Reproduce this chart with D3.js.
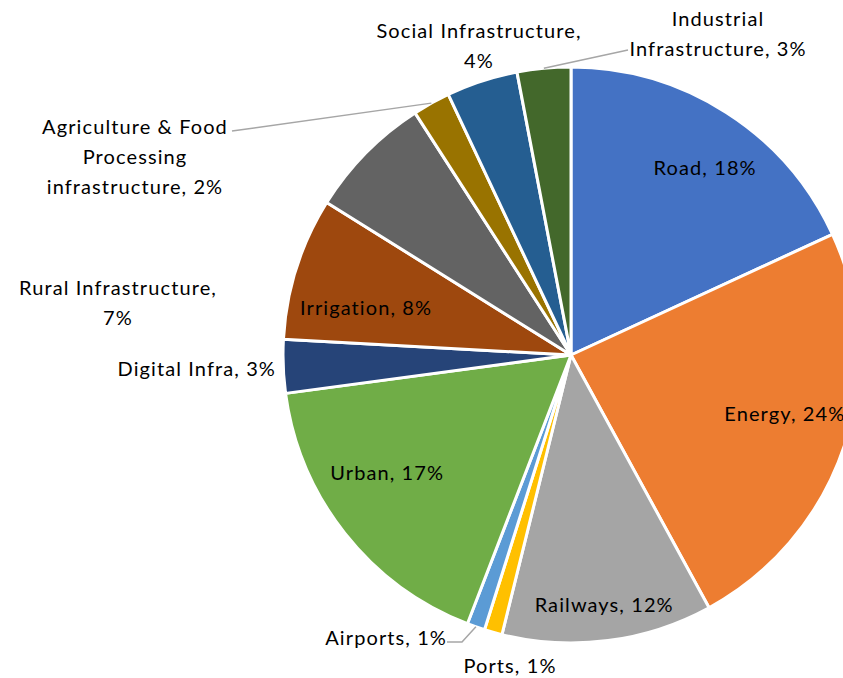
<!DOCTYPE html>
<html>
<head>
<meta charset="utf-8">
<script src="https://cdn.jsdelivr.net/npm/d3@7"></script>
<style>
  body { margin: 0; background: #fff; }
  text { font-family: Lato, 'Open Sans', sans-serif; font-size: 20px; fill: #000; letter-spacing: 1.1px; }
</style>
</head>
<body>
<script>
const categories = ['Road', 'Energy', 'Railways', 'Ports', 'Airports', 'Urban', 'Digital Infra',
  'Irrigation', 'Rural Infrastructure', 'Agriculture & Food Processing infrastructure',
  'Social Infrastructure', 'Industrial Infrastructure']
const values = [18.1, 23.9, 11.8, 1.0, 1.0, 17.0, 3.0, 8.0, 7.0, 2.1, 4.0, 3.0]
const pctLabels = ['18%', '24%', '12%', '1%', '1%', '17%', '3%', '8%', '7%', '2%', '4%', '3%']
const colors = ['#4472C4', '#ED7D31', '#A5A5A5', '#FFC000', '#5B9BD5', '#70AD47', '#264478',
  '#9E480E', '#636363', '#997300', '#255E91', '#43682B']

// label layout: inside labels sit on an arc (plus a nudge), outside ones get a block position
const labelLayout = [
  { inside: true, k: 0.80, dx: 10, dy: 6, lines: ['Road, 18%'] },
  { inside: true, k: 0.76, dx: 6, dy: -11, lines: ['Energy, 24%'] },
  { inside: true, k: 0.87, dx: 1, dy: 1, lines: ['Railways, 12%'] },
  { x: 510, y: 665, anchor: 'middle', lines: ['Ports, 1%'] },
  { x: 447, y: 637, anchor: 'end', lines: ['Airports, 1%'], leader: [462, 642, 447, 642] },
  { inside: true, k: 0.76, dx: -12, dy: -19, lines: ['Urban, 17%'] },
  { x: 276, y: 368, anchor: 'end', lines: ['Digital Infra, 3%'] },
  { inside: true, k: 0.75, dx: 1, dy: 17, lines: ['Irrigation, 8%'] },
  { x: 118, y: 287, anchor: 'middle', lines: ['Rural Infrastructure,', '7%'] },
  { x: 135, y: 126, anchor: 'middle', lines: ['Agriculture & Food', 'Processing', 'infrastructure, 2%'], leader: [232, 131, 232, 131] },
  { x: 479, y: 30, anchor: 'middle', lines: ['Social Infrastructure,', '4%'] },
  { x: 718, y: 18, anchor: 'middle', lines: ['Industrial', 'Infrastructure, 3%'], leader: [628, 50, 628, 50] }
]

const w = 843
const h = 678
const cx = 571
const cy = 355
const R = 288

const svg = d3.select('body').append('svg')
  .attr('width', w)
  .attr('height', h)

const g = svg.append('g').attr('transform', 'translate(' + cx + ',' + cy + ')')

const pie = d3.pie().sort(null).value(d => d)
const arcs = pie(values)
const arc = d3.arc().innerRadius(0).outerRadius(R)

g.selectAll('path.slice')
  .data(arcs)
  .enter().append('path')
  .attr('class', 'slice')
  .attr('d', arc)
  .attr('fill', (d, i) => colors[i])
  .attr('stroke', '#fff')
  .attr('stroke-width', 3)
  .attr('stroke-linejoin', 'round')

const lineH = 30

// leader lines
arcs.forEach((d, i) => {
  const L = labelLayout[i]
  if (!L.leader) return
  const mid = (d.startAngle + d.endAngle) / 2
  const sx = cx + Math.sin(mid) * R
  const sy = cy - Math.cos(mid) * R
  const pts = [[sx, sy], [L.leader[0], L.leader[1]], [L.leader[2], L.leader[3]]]
  svg.append('path')
    .attr('d', d3.line()(pts))
    .attr('fill', 'none')
    .attr('stroke', '#A6A6A6')
    .attr('stroke-width', 1.5)
})

arcs.forEach((d, i) => {
  const L = labelLayout[i]
  let x, y, anchor
  if (L.inside) {
    const la = d3.arc().innerRadius(R * L.k).outerRadius(R * L.k)
    const c = la.centroid(d)
    x = cx + c[0] + L.dx
    y = cy + c[1] + L.dy
    anchor = 'middle'
  } else {
    x = L.x
    y = L.y
    anchor = L.anchor
  }
  const t = svg.append('text')
    .attr('text-anchor', anchor)
    .attr('dominant-baseline', 'central')
  const n = L.lines.length
  L.lines.forEach((s, j) => {
    t.append('tspan')
      .attr('x', x)
      .attr('y', L.inside ? y + (j - (n - 1) / 2) * lineH : y + j * lineH)
      .text(s)
  })
})
</script>
</body>
</html>
